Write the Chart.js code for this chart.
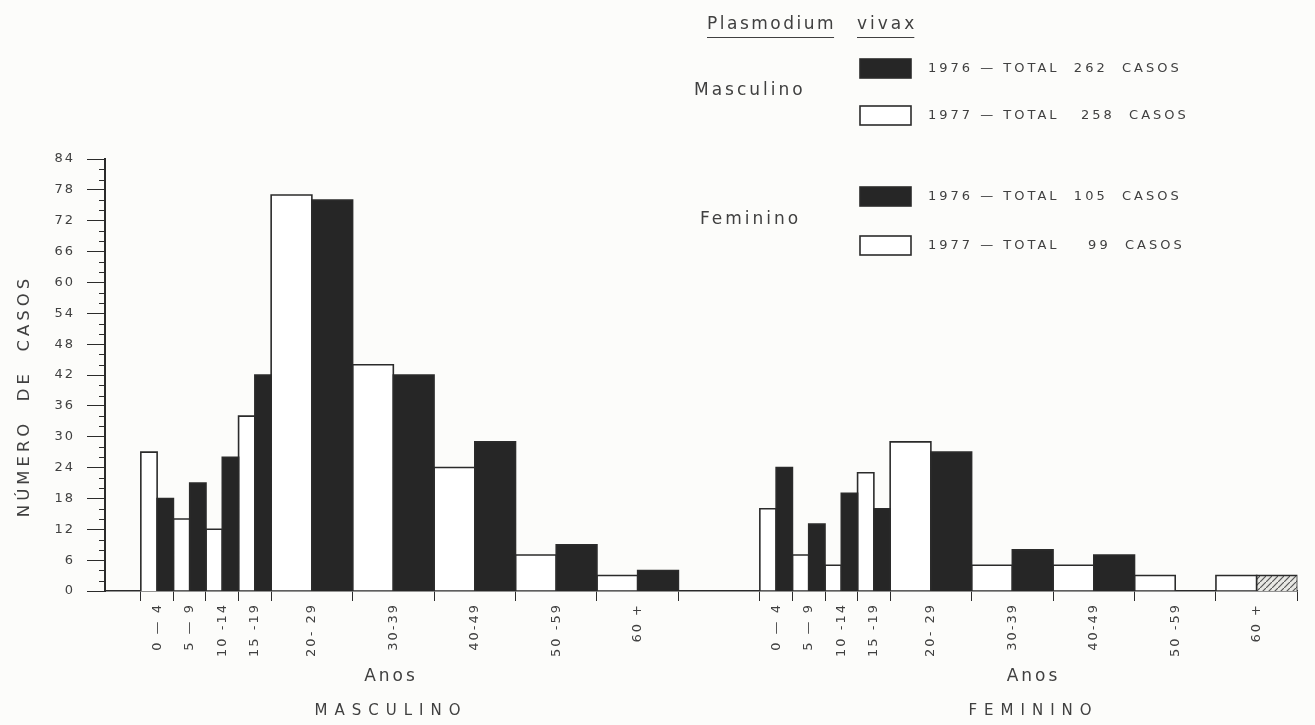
<!DOCTYPE html>
<html>
<head>
<meta charset="utf-8">
<script src="https://cdn.jsdelivr.net/npm/chart.js@4.4.1/dist/chart.umd.min.js"></script>
<style>
  html, body { margin: 0; background: #fcfcfa; }
  #wrap { width: 1315px; height: 725px; position: relative; }
</style>
</head>
<body>
<div id="wrap"><canvas id="myGraph"></canvas></div>
<script>
// values (cases per age band)
const ageGroups = ["0 — 4", "5 — 9", "10 -14", "15 -19", "20- 29", "30-39", "40-49", "50 -59", "60 +"];
const masc1976 = [18, 21, 26, 42, 76, 42, 29, 9, 4];
const masc1977 = [27, 14, 12, 34, 77, 44, 24, 7, 3];
const fem1976 = [24, 13, 19, 16, 27, 8, 7, 0, 3];
const fem1977 = [16, 7, 5, 23, 29, 5, 5, 3, 3];
const groupNames = ["MASCULINO", "FEMININO"];
const legendRows = [
  ["Masculino", "1976 — TOTAL  262  CASOS", "1977 — TOTAL   258  CASOS"],
  ["Feminino", "1976 — TOTAL  105  CASOS", "1977 — TOTAL    99  CASOS"],
];
const yMax = 84;

// layout: a 5-year band is 1 unit wide, a 10-year band 2.5 units
const bandW = [1, 1, 1, 1, 2.5, 2.5, 2.5, 2.5, 2.5];
const groupW = bandW.reduce((a, b) => a + b, 0);
const lead = 1.1, gap = 2.5;
const groupStart = [lead, lead + groupW + gap];
const xMax = groupStart[1] + groupW;
const ink = "#2b2b2b";
const textInk = "#404040";
const FONT = '"DejaVu Sans", sans-serif';

// each bar as a closed step outline (white left half, black right half of band)
function bars(values, group, side) {
  const pts = [];
  let a = groupStart[group];
  values.forEach((v, i) => {
    const m = a + bandW[i] / 2;
    const x0 = side === "left" ? a : m;
    const x1 = side === "left" ? m : a + bandW[i];
    pts.push({ x: x0, y: 0 }, { x: x0, y: v }, { x: x1, y: v }, { x: x1, y: 0 });
    a += bandW[i];
  });
  return pts;
}

// x ticks: band edges (tick mark only) and band centres (label only)
const xTicks = [];
groupStart.forEach((g) => {
  let a = g;
  xTicks.push({ value: a, label: "" });
  ageGroups.forEach((lab, i) => {
    xTicks.push({ value: a + bandW[i] / 2, label: lab });
    a += bandW[i];
    xTicks.push({ value: a, label: "" });
  });
});

// hatched box for the female 60+ (1976) bar
const hatchCanvas = document.createElement("canvas");
hatchCanvas.width = 6; hatchCanvas.height = 6;
const hc = hatchCanvas.getContext("2d");
hc.fillStyle = "#e8e8e4"; hc.fillRect(0, 0, 6, 6);
hc.strokeStyle = "#555"; hc.lineWidth = 1.2;
hc.beginPath(); hc.moveTo(0, 6); hc.lineTo(6, 0); hc.stroke();
const hatch = hc.createPattern(hatchCanvas, "repeat");
const hatchFrom = (masc1976.length + ageGroups.indexOf("60 +")) * 4;

function txt(ctx, s, x, y, size, spacing, align) {
  ctx.save();
  ctx.font = size + "px " + FONT;
  ctx.letterSpacing = spacing + "px";
  ctx.textAlign = align || "left";
  ctx.textBaseline = "middle";
  ctx.fillStyle = textInk;
  ctx.fillText(s, x, y);
  const w = ctx.measureText(s).width;
  ctx.restore();
  return w;
}

const decorations = {
  id: "decorations",
  beforeDraw(chart) {
    chart.ctx.letterSpacing = "2px";
  },
  afterDraw(chart) {
    const ctx = chart.ctx;
    const x = chart.scales.x, y = chart.scales.y;
    ctx.save();
    ctx.letterSpacing = "0px";
    // minor ticks on the y axis
    ctx.strokeStyle = ink; ctx.lineWidth = 1;
    for (let v = 0; v <= yMax; v += 2) {
      if (v % 6 === 0) continue;
      const py = Math.round(y.getPixelForValue(v)) + 0.5;
      ctx.beginPath(); ctx.moveTo(x.left - 6, py); ctx.lineTo(x.left, py); ctx.stroke();
    }
    ctx.restore();

    // y title
    ctx.save();
    ctx.translate(25, 396);
    ctx.rotate(-Math.PI / 2);
    txt(ctx, "NÚMERO  DE  CASOS", 0, 0, 16.5, 4, "center");
    ctx.restore();

    // group captions
    [8.78, 28.5].forEach((c, g) => {
      const px = x.getPixelForValue(c);
      txt(ctx, "Anos", px, 677, 17, 3, "center");
      txt(ctx, groupNames[g], px, 711, 15, 7, "center");
    });

    // legend block
    ctx.save();
    const w1 = txt(ctx, "Plasmodium", 707, 25, 17, 2.5);
    const w2 = txt(ctx, "vivax", 857, 25, 17, 3);
    ctx.strokeStyle = textInk; ctx.lineWidth = 1.2;
    ctx.beginPath();
    ctx.moveTo(707, 37.5); ctx.lineTo(707 + w1 - 2, 37.5);
    ctx.moveTo(857, 37.5); ctx.lineTo(857 + w2 - 3, 37.5);
    ctx.stroke();
    ctx.restore();

    const rowsY = [[69, 116], [197, 246]];
    const captionX = [694, 700];
    legendRows.forEach((row, k) => {
      const [ya, yb] = rowsY[k];
      txt(ctx, row[0], captionX[k], (ya + yb) / 2 - 2, 17, 3);
      [[ya, "#262626", row[1]], [yb, "#ffffff", row[2]]].forEach(([yy, fill, s]) => {
        ctx.save();
        ctx.fillStyle = fill; ctx.strokeStyle = ink; ctx.lineWidth = 1.6;
        ctx.fillRect(860, yy - 10, 51, 19);
        ctx.strokeRect(860, yy - 10, 51, 19);
        ctx.restore();
        txt(ctx, s, 928, yy, 13, 3);
      });
    });
  },
};

Chart.defaults.font.family = FONT;
Chart.defaults.color = textInk;

new Chart(document.getElementById("myGraph"), {
  type: "line",
  data: {
    datasets: [
      {
        label: "1976",
        data: [...bars(masc1976, 0, "right"), ...bars(fem1976, 1, "right")],
        borderColor: ink,
        backgroundColor: "#262626",
        segment: {
          backgroundColor: (c) => (c.p0DataIndex >= hatchFrom && c.p0DataIndex < hatchFrom + 3 ? hatch : undefined),
        },
        borderWidth: 1.6,
        fill: "origin",
        pointRadius: 0,
        tension: 0,
        order: 1,
      },
      {
        label: "1977",
        data: [...bars(masc1977, 0, "left"), ...bars(fem1977, 1, "left")],
        borderColor: ink,
        backgroundColor: "#ffffff",
        borderWidth: 1.6,
        fill: "origin",
        pointRadius: 0,
        tension: 0,
        order: 2,
      },
    ],
  },
  options: {
    responsive: true,
    maintainAspectRatio: false,
    animation: false,
    layout: { padding: { top: 159, right: 10, bottom: 0, left: 0 } },
    plugins: { legend: { display: false }, tooltip: { enabled: false } },
    scales: {
      x: {
        type: "linear",
        min: 0,
        max: xMax,
        afterBuildTicks: (s) => { s.ticks = xTicks.map((t) => ({ value: t.value })); },
        afterFit: (s) => { s.height = 134; },
        ticks: {
          autoSkip: false,
          minRotation: 90,
          maxRotation: 90,
          padding: 2,
          font: { size: 13 },
          callback: (v, i) => xTicks[i].label,
        },
        grid: {
          drawOnChartArea: false,
          tickLength: 10,
          tickWidth: 1,
          tickColor: (c) => (xTicks[c.index] && xTicks[c.index].label ? "rgba(0,0,0,0)" : ink),
        },
        border: { color: ink, width: 1.6 },
      },
      y: {
        min: 0,
        max: yMax,
        afterFit: (s) => { s.width = 105; },
        ticks: {
          stepSize: 2,
          autoSkip: false,
          padding: 12,
          font: { size: 13 },
          callback: (v) => (v % 6 === 0 ? v : ""),
        },
        grid: {
          drawOnChartArea: false,
          tickLength: 18,
          tickWidth: 1,
          tickColor: (c) => (c.tick && c.tick.value % 6 === 0 ? ink : "rgba(0,0,0,0)"),
        },
        border: { color: ink, width: 2 },
      },
    },
  },
  plugins: [decorations],
});
</script>
</body>
</html>
